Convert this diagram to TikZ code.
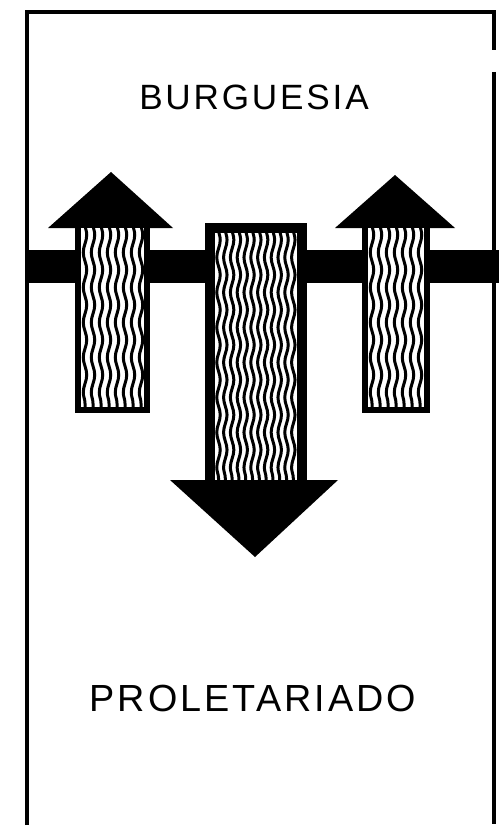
\documentclass[tikz,border=0pt]{standalone}
\usepackage{fontspec}
\usepackage{tikz}
\usetikzlibrary{decorations.pathmorphing}

\newfontfamily\classfont[LetterSpace=8]{Liberation Sans}

\begin{document}
\begin{tikzpicture}[
    x=0.02cm, y=-0.02cm,
    frame/.style={line width=0.08cm, draw=black},
    band/.style={fill=black},
    head/.style={fill=black},
    shaft/.style={fill=black},
    inner/.style={fill=white},
    waveline/.style={line width=0.06cm, decorate, decoration={snake, amplitude=0.035cm, segment length=0.7cm}},
    classname/.style={font=\classfont\fontsize{20}{24}\selectfont, inner sep=0pt}
]
    \useasboundingbox (0,0) rectangle (499,831);

    % frame, open at the bottom
    \draw [frame] (27,825) -- (27,12.5) -- (494,12.5) -- (494,50);
    \draw [frame] (494,72) -- (494,824);

    % class labels
    \node [classname] (burg) at (254,97) {BURGUESIA};
    \node [classname, font=\classfont\fontsize{21.5}{26}\selectfont] (prol) at (253,698) {PROLETARIADO};

    % dividing band
    \fill [band] (27,250) rectangle (499,283);

    % left arrow (up)
    \fill [head] (48,228) -- (173,228) -- (111,172) -- cycle;
    \fill [shaft] (75,228) rectangle (150,413);
    \fill [inner] (81,228) rectangle (144,407);
    \begin{scope}
        \clip (81,228) rectangle (144,407);
        \foreach \x in {85,93,...,141}
            \draw [waveline] (\x,224) -- (\x,412);
    \end{scope}

    % middle arrow (down)
    \fill [shaft] (205,223) rectangle (307,480);
    \fill [inner] (215,233) rectangle (297,480);
    \begin{scope}
        \clip (215,233) rectangle (297,480);
        \foreach \x in {218.5,225.3,...,295}
            \draw [waveline] (\x,229) -- (\x,485);
    \end{scope}
    \fill [head] (170,480) -- (338,480) -- (255,557) -- cycle;

    % right arrow (up)
    \fill [head] (335,228) -- (455,228) -- (395,175) -- cycle;
    \fill [shaft] (362,228) rectangle (430,413);
    \fill [inner] (368,228) rectangle (424,407);
    \begin{scope}
        \clip (368,228) rectangle (424,407);
        \foreach \x in {372,380,...,421}
            \draw [waveline] (\x,224) -- (\x,412);
    \end{scope}
\end{tikzpicture}
\end{document}
